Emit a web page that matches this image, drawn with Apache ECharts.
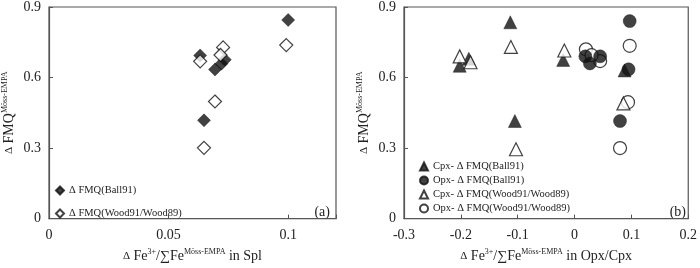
<!DOCTYPE html>
<html><head><meta charset="utf-8">
<script src="https://cdn.jsdelivr.net/npm/echarts@6/dist/echarts.min.js"></script>
<style>html,body{margin:0;padding:0;background:#fff}#c{width:700px;height:268px}</style>
</head><body><div id="c"></div>
<script>
// Panel (a): Spl
const splBall = [[0.100,0.845],[0.0632,0.694],[0.0694,0.634],[0.0721,0.659],[0.0735,0.676],[0.0648,0.418]];
const splWood = [[0.0992,0.738],[0.0632,0.669],[0.0728,0.728],[0.0717,0.696],[0.0694,0.498],[0.0648,0.301]];
// Panel (b): Opx/Cpx
const cpxBall = [[-0.113,0.835],[-0.202,0.650],[-0.186,0.680],[-0.020,0.675],[-0.105,0.415],[0.088,0.630]];
const opxBall = [[0.097,0.840],[0.019,0.690],[0.027,0.660],[0.045,0.690],[0.095,0.635],[0.080,0.415]];
const cpxWood = [[-0.112,0.730],[-0.202,0.690],[-0.183,0.665],[-0.018,0.715],[-0.103,0.295],[0.086,0.490]];
const opxWood = [[0.097,0.735],[0.020,0.720],[0.045,0.670],[0.030,0.695],[0.094,0.495],[0.080,0.300]];
const yTicks = [0, 0.3, 0.6, 0.9];
const xTicksA = [0, 0.05, 0.1];
const xTicksB = [-0.3, -0.2, -0.1, 0, 0.1, 0.2];

const F = 'Liberation Serif';
const ink = '#111';
const frame = '#555';
const richName = {
  n: {fontFamily: F, fontSize: 14, color: '#222'},
  d: {fontFamily: F, fontSize: 11, color: '#222'},
  s: {fontFamily: F, fontSize: 8, color: '#222', verticalAlign: 'bottom', padding: [0,0,9,0]}
};
function axisCommon() {
  return {
    axisLine: {show: true, onZero: false, lineStyle: {color: frame, width: 1.2}},
    axisTick: {show: true, inside: true, length: 4, lineStyle: {color: frame}},
    splitLine: {show: false},
    axisLabel: {fontFamily: F, fontSize: 13, color: '#222'}
  };
}
const legendText = {fontFamily: F, fontSize: 10.5, color: '#222'};
const open = {color: '#fff', borderColor: ink, borderWidth: 1.2};
const fill = {color: ink, borderColor: ink, borderWidth: 0.5};

const option = {
  animation: false,
  grid: [
    {left: 47, right: 364, top: 5, bottom: 45, show: true, borderColor: frame, borderWidth: 1.2},
    {left: 404, right: 10, top: 5, bottom: 45, show: true, borderColor: frame, borderWidth: 1.2}
  ],
  xAxis: [
    Object.assign(axisCommon(), {gridIndex: 0, type: 'value', min: 0, max: 0.12, interval: 0.05,
      axisLabel: {fontFamily: F, fontSize: 14, color: '#222', margin: 10,
        formatter: v => xTicksA.some(t => Math.abs(t - v) < 1e-9) ? String(v) : ''},
      name: '{d|Δ}{n| Fe}{s|3+}{n|/∑Fe}{s|Möss-EMPA}{n| in Spl}', nameLocation: 'middle', nameGap: 26,
      nameTextStyle: {rich: richName}}),
    Object.assign(axisCommon(), {gridIndex: 1, type: 'value', min: -0.3, max: 0.2, interval: 0.1,
      axisLabel: {fontFamily: F, fontSize: 14, color: '#222', margin: 10,
        formatter: v => { const t = xTicksB.find(t => Math.abs(t - v) < 1e-9); return t === undefined ? '' : String(t); }},
      name: '{d|Δ}{n| Fe}{s|3+}{n|/∑Fe}{s|Möss-EMPA}{n| in Opx/Cpx}', nameLocation: 'middle', nameGap: 26,
      nameTextStyle: {rich: richName}})
  ],
  yAxis: [0, 1].map(i => Object.assign(axisCommon(), {gridIndex: i, type: 'value', min: 0, max: 0.9, interval: 0.3,
      axisLabel: {fontFamily: F, fontSize: 14, color: '#222', margin: 8,
        formatter: v => { const t = yTicks.find(t => Math.abs(t - v) < 1e-9); return t === undefined ? '' : String(t); }},
      name: '{d|Δ}{n| FMQ}{s|Möss-EMPA}', nameLocation: 'middle', nameGap: 31, nameRotate: 90,
      nameTextStyle: {rich: richName}})),
  legend: [
    {data: ['Δ FMQ(Ball91)', 'Δ FMQ(Wood91/Wood89)'], orient: 'vertical', left: 50, top: 180,
      itemWidth: 8, itemHeight: 8, itemGap: 12, textStyle: legendText, selectedMode: false},
    {data: ['Cpx- Δ FMQ(Ball91)', 'Opx- Δ FMQ(Ball91)', 'Cpx- Δ FMQ(Wood91/Wood89)', 'Opx- Δ FMQ(Wood91/Wood89)'],
      orient: 'vertical', left: 414, top: 156, itemWidth: 8, itemHeight: 8, itemGap: 3,
      textStyle: legendText, selectedMode: false}
  ],
  graphic: [
    {type: 'text', right: 370, top: 205, style: {text: '(a)', font: '14px "Liberation Serif"', fill: '#222'}},
    {type: 'text', right: 14, top: 205, style: {text: '(b)', font: '14px "Liberation Serif"', fill: '#222'}}
  ],
  series: [
    {name: 'Δ FMQ(Ball91)', type: 'scatter', xAxisIndex: 0, yAxisIndex: 0, symbol: 'diamond', symbolSize: 13, itemStyle: fill, data: splBall},
    {name: 'Δ FMQ(Wood91/Wood89)', type: 'scatter', xAxisIndex: 0, yAxisIndex: 0, symbol: 'diamond', symbolSize: 13, itemStyle: open, data: splWood},
    {name: 'Cpx- Δ FMQ(Ball91)', type: 'scatter', xAxisIndex: 1, yAxisIndex: 1, symbol: 'triangle', symbolSize: 13, itemStyle: fill, data: cpxBall},
    {name: 'Opx- Δ FMQ(Wood91/Wood89)', type: 'scatter', xAxisIndex: 1, yAxisIndex: 1, symbol: 'circle', symbolSize: 13, itemStyle: open, data: opxWood},
    {name: 'Opx- Δ FMQ(Ball91)', type: 'scatter', xAxisIndex: 1, yAxisIndex: 1, symbol: 'circle', symbolSize: 13, itemStyle: fill, data: opxBall},
    {name: 'Cpx- Δ FMQ(Wood91/Wood89)', type: 'scatter', xAxisIndex: 1, yAxisIndex: 1, symbol: 'triangle', symbolSize: 13, itemStyle: open, data: cpxWood}
  ]
};
const chart = echarts.init(document.getElementById('c'), null, {renderer: 'canvas'});
chart.setOption(option);
</script></body></html>
